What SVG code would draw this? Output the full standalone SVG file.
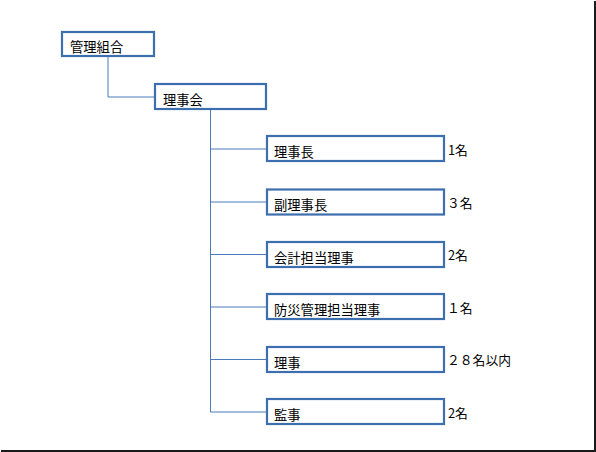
<svg xmlns="http://www.w3.org/2000/svg" width="596" height="452" viewBox="0 0 596 452">
<style>
.box{fill:#ffffff;stroke:#3d6eae;stroke-width:2.2}
.lbl{font-family:"Noto Sans CJK JP","Noto Sans",sans-serif;font-size:13.3px;fill:#000}
.num{font-family:"Noto Sans CJK JP","Noto Sans",sans-serif;font-size:12.8px;fill:#000}
.con{fill:none;stroke:#4a7cbc;stroke-width:1}
</style>
<rect x="0" y="0" width="596" height="452" fill="#ffffff"/>
<rect x="594" y="1" width="2" height="451" fill="#1a1a1a"/>
<rect x="1" y="450" width="595" height="2" fill="#1a1a1a"/>
<g id="connectors">
<path class="con" d="M108 57 V97 H155"/>
<path class="con" d="M210.5 110 V412"/>
<path class="con" d="M210.5 149 H267"/>
<path class="con" d="M210.5 202 H267"/>
<path class="con" d="M210.5 254.5 H267"/>
<path class="con" d="M210.5 307 H267"/>
<path class="con" d="M210.5 359.5 H267"/>
<path class="con" d="M210.5 412 H267"/>
</g>
<g id="n-kanri"><rect class="box" x="62" y="32" width="92" height="24"/><text class="lbl" x="70" y="52">管理組合</text></g>
<g id="n-rijikai"><rect class="box" x="155" y="84" width="111" height="25"/><text class="lbl" x="163" y="105">理事会</text></g>
<g id="n-rijicho"><rect class="box" x="267" y="136" width="177" height="25"/><text class="lbl" x="274" y="157">理事長</text><text class="num" x="448" y="154.5">1名</text></g>
<g id="n-fukurijicho"><rect class="box" x="267" y="189.5" width="177" height="25"/><text class="lbl" x="274" y="210">副理事長</text><text class="num" x="447" y="207.5">３名</text></g>
<g id="n-kaikei"><rect class="box" x="267" y="242" width="177" height="25"/><text class="lbl" x="274" y="262.5">会計担当理事</text><text class="num" x="448" y="260">2名</text></g>
<g id="n-bousai"><rect class="box" x="267" y="294" width="177" height="25"/><text class="lbl" x="274" y="315">防災管理担当理事</text><text class="num" x="447" y="312.5">１名</text></g>
<g id="n-riji"><rect class="box" x="267" y="347" width="177" height="25"/><text class="lbl" x="274" y="367.5">理事</text><text class="num" x="447" y="365">２８名以内</text></g>
<g id="n-kanji"><rect class="box" x="267" y="399" width="177" height="25"/><text class="lbl" x="274" y="420">監事</text><text class="num" x="448" y="417.5">2名</text></g>
</svg>
